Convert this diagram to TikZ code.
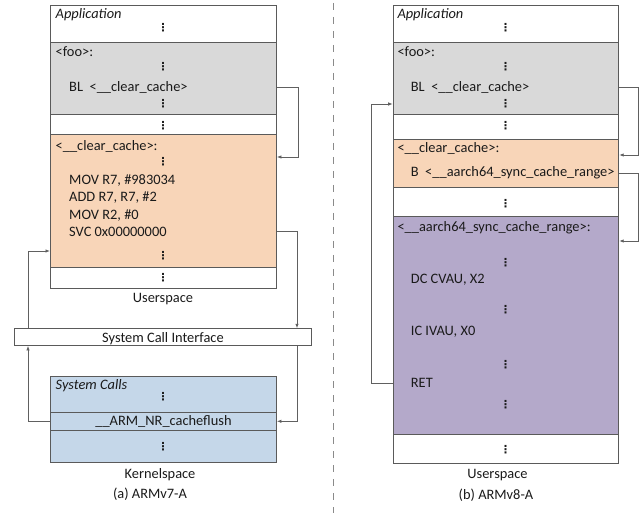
\documentclass[tikz,border=0pt]{standalone}
\usepackage{fontspec}
\setmainfont{Carlito}
\newfontfamily\dejavu{DejaVu Sans}
\usetikzlibrary{arrows.meta}
\definecolor{bordc}{HTML}{5A5A5A}
\definecolor{linec}{HTML}{606060}
\definecolor{txt}{HTML}{1A1A1A}
\definecolor{grayf}{HTML}{D9D9D9}
\definecolor{orangef}{HTML}{F8D5B8}
\definecolor{bluef}{HTML}{C5D7E9}
\definecolor{purplef}{HTML}{B4A9CA}
\definecolor{sepc}{HTML}{8A8A8A}
\begin{document}
\begin{tikzpicture}[x=1pt,y=-1pt,
  every node/.style={font=\fontsize{14.4}{17}\selectfont, text=txt},
  blk/.style={draw=bordc, line width=0.9pt, inner sep=0, anchor=north west, minimum width=226pt},
  lbl/.style={anchor=mid west, inner sep=0, yshift=-1.8pt},
  ctr/.style={inner sep=0, yshift=-1.5pt},
  dts/.style={inner sep=0, font=\dejavu\bfseries\fontsize{11}{11}\selectfont},
  conn/.style={draw=linec, line width=0.8pt, -{Latex[length=4.5pt,width=3.5pt]}}]
\useasboundingbox (0,0) rectangle (640,513);
% separator
\draw[sepc, line width=0.9pt, dash pattern=on 7pt off 7pt] (333,3) -- (333,513);
% ---------------- left (ARMv7-A) ----------------
\node[blk, fill=white, minimum height=36.7pt] (appL) at (50,5) {};
\node[blk, fill=grayf, minimum height=72.3pt] (fooL) at (50,41.7) {};
\node[blk, fill=white, minimum height=20pt] (gapL) at (50,114) {};
\node[blk, fill=orangef, minimum height=132.7pt] (ccL) at (50,134) {};
\node[blk, fill=white, minimum height=21.6pt] (endL) at (50,266.7) {};
\node[blk, fill=white, minimum width=297pt, minimum height=16.7pt] (sci) at (14,328.3) {};
\node[blk, fill=bluef, minimum height=35.7pt] (kA) at (50,376) {};
\node[blk, fill=bluef, minimum height=18.3pt] (flush) at (50,411.7) {};
\node[blk, fill=bluef, minimum height=32.3pt] (kB) at (50,430) {};

\node[lbl, font=\fontsize{14.4}{17}\selectfont\itshape] (appLt) at (55.5,14) {Application};
\node[dts] (d1) at (163,28) {⋮};
\node[lbl] (fooLt) at (55.5,52) {<foo>:};
\node[dts] (d2) at (163,67) {⋮};
\node[lbl] (blL) at (69,87) {BL\ \ <\_\_clear\_cache>};
\node[dts] (d3) at (163,104) {⋮};
\node[dts] (d4) at (163,126) {⋮};
\node[lbl] (ccLt) at (55.5,146) {<\_\_clear\_cache>:};
\node[dts] (d5) at (163,162) {⋮};
\node[lbl] (mov1) at (69,180) {MOV R7, \#983034};
\node[lbl] (add1) at (69,197.5) {ADD R7, R7, \#2};
\node[lbl] (mov2) at (69,215) {MOV R2, \#0};
\node[lbl] (svc) at (69,232) {SVC 0x00000000};
\node[dts] (d6) at (163,256) {⋮};
\node[dts] (d7) at (163,278) {⋮};
\node[ctr] (usL) at (163,298) {Userspace};
\node[ctr] (scit) at (sci.center) {System Call Interface};
\node[lbl, font=\fontsize{14.4}{17}\selectfont\itshape] (sct) at (55.5,385) {System Calls};
\node[dts] (d8) at (163,397) {⋮};
\node[ctr] (flusht) at (163.5,420) {\_\_ARM\_NR\_cacheflush};
\node[dts] (d9) at (163,446.5) {⋮};
\node[ctr] (ksL) at (160,473) {Kernelspace};
\node[ctr] (capA) at (150,493) {(a) ARMv7-A};

\coordinate (rL) at (297,0);
\coordinate (lL) at (28,0);
\coordinate (r1) at (298,0);
\coordinate (e1) at (0,157);
\coordinate (e5) at (0,251);
\coordinate (svcy) at (0,231.7);
\coordinate (bly) at (0,87);

\draw[conn] (fooL.east |- bly) -| (r1 |- e1) -- (ccL.east |- e1);
\draw[conn] (ccL.east |- svcy) -| (rL |- sci.north);
\draw[conn] (rL |- sci.south) |- (flush.east);
\draw[conn] (flush.west) -| (lL |- sci.south);
\draw[conn] (lL |- sci.north) |- (ccL.west |- e5);

% ---------------- right (ARMv8-A) ----------------
\node[blk, fill=white, minimum width=225.6pt, minimum height=36.7pt] (appR) at (392.7,5) {};
\node[blk, fill=grayf, minimum width=225.6pt, minimum height=72.6pt] (fooR) at (392.7,41.7) {};
\node[blk, fill=white, minimum width=225.6pt, minimum height=25pt] (gapR) at (392.7,114.3) {};
\node[blk, fill=orangef, minimum width=225.6pt, minimum height=47.4pt] (ccR) at (392.7,139.3) {};
\node[blk, fill=white, minimum width=225.6pt, minimum height=29pt] (gap2R) at (392.7,186.7) {};
\node[blk, fill=purplef, minimum width=225.6pt, minimum height=218.6pt] (syncR) at (392.7,215.7) {};
\node[blk, fill=white, minimum width=225.6pt, minimum height=29pt] (endR) at (392.7,434.3) {};

\node[lbl, font=\fontsize{14.4}{17}\selectfont\itshape] (appRt) at (397.3,14) {Application};
\node[dts] (r_d1) at (505.5,28) {⋮};
\node[lbl] (fooRt) at (397.3,52) {<foo>:};
\node[dts] (r_d2) at (505.5,67) {⋮};
\node[lbl] (blR) at (410.7,87) {BL\ \ <\_\_clear\_cache>};
\node[dts] (r_d3) at (505.5,104) {⋮};
\node[dts] (r_d4) at (505.5,126) {⋮};
\node[lbl] (ccRt) at (397.3,148) {<\_\_clear\_cache>:};
\node[lbl] (bR) at (410.7,172.5) {B\ \ <\_\_aarch64\_sync\_cache\_range>};
\node[dts] (r_d5) at (505.5,204) {⋮};
\node[lbl] (syncRt) at (397.3,227) {<\_\_aarch64\_sync\_cache\_range>:};
\node[dts] (r_d6) at (505.5,262.5) {⋮};
\node[lbl] (dc) at (410.7,279) {DC CVAU, X2};
\node[dts] (r_d7) at (505.5,310) {⋮};
\node[lbl] (ic) at (410.7,331) {IC IVAU, X0};
\node[dts] (r_d8) at (505.5,365) {⋮};
\node[lbl] (ret) at (410.7,383.3) {RET};
\node[dts] (r_d9) at (505.5,405) {⋮};
\node[dts] (r_d10) at (505.5,449.3) {⋮};
\node[ctr] (usR) at (497.5,474) {Userspace};
\node[ctr] (capB) at (496,494) {(b) ARMv8-A};

\coordinate (rR) at (638.8,0);
\coordinate (lR) at (371.7,0);
\coordinate (f1) at (0,155);
\coordinate (f2) at (0,241);
\coordinate (f3) at (0,104);
\coordinate (blry) at (0,87);
\coordinate (bry) at (0,173);
\coordinate (rety) at (0,383.3);

\draw[conn] (fooR.east |- blry) -| (rR |- f1) -- (ccR.east |- f1);
\draw[conn] (ccR.east |- bry) -| (rR |- f2) -- (syncR.east |- f2);
\draw[conn] (syncR.west |- rety) -| (lR |- f3) -- (fooR.west |- f3);
\end{tikzpicture}
\end{document}
